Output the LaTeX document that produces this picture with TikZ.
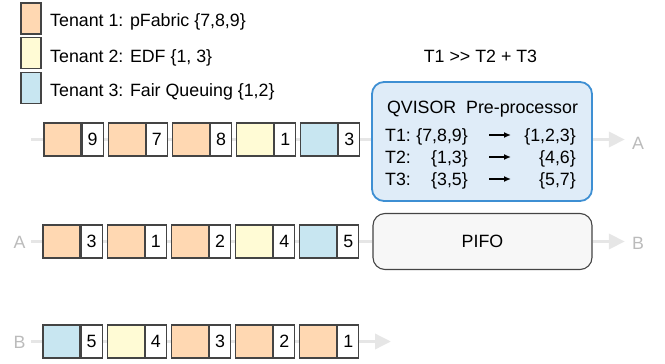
\documentclass[tikz,border=0pt]{standalone}
\usepackage{fontspec}
\setmainfont{Liberation Sans}
\usetikzlibrary{arrows.meta,backgrounds}
\definecolor{cOr}{HTML}{FFD8B2}
\definecolor{cYe}{HTML}{FFFBD5}
\definecolor{cBl}{HTML}{C8E6F1}
\definecolor{cEdge}{HTML}{444444}
\definecolor{cLine}{HTML}{E6E6E6}
\definecolor{cLab}{HTML}{BBBBBB}
\definecolor{qvFill}{HTML}{DFECF8}
\definecolor{qvEdge}{HTML}{3E8FD3}
\definecolor{pfFill}{HTML}{F7F7F7}
\tikzset{
  txt/.style={font=\fontsize{17.8}{21}\selectfont, inner sep=0pt},
  body/.style={draw=cEdge, line width=1.1pt, minimum width=37pt, minimum height=33pt, inner sep=0pt},
  numbox/.style={draw=cEdge, line width=1.1pt, fill=white, minimum width=21pt, minimum height=33pt, inner sep=0pt, txt},
  legsq/.style={draw=cEdge, line width=1.1pt, minimum width=20pt, minimum height=31pt, inner sep=0pt},
  wire/.style={draw=cLine, line width=3.5pt},
  wirearrow/.style={wire, -{Triangle[length=16pt,width=15pt]}},
  glab/.style={txt, text=cLab},
  smallarrow/.style={-{Latex[length=7pt,width=6pt]}, line width=1.3pt},
}
\begin{document}
\begin{tikzpicture}[x=1pt,y=-1pt]
\useasboundingbox (0,0) rectangle (665,364);
% legend
\node[legsq, fill=cOr] (l1) at (31,18.5) {};
\node[legsq, fill=cYe] (l2) at (31,53) {};
\node[legsq, fill=cBl] (l3) at (31,88) {};
\node[txt, anchor=base west] (lt1) at (50,27) {Tenant 1: pFabric \{7,8,9\}};
\node[txt, anchor=base west] (lt2) at (50,62) {Tenant 2: EDF \{1, 3\}};
\node[txt, anchor=base west] (lt3) at (50,96.5) {Tenant 3: Fair Queuing \{1,2\}};
\node[txt, anchor=base] (rule) at (480.5,62) {T1 >{}> T2 + T3};
% QVISOR box
\node[draw=qvEdge, fill=qvFill, line width=1.8pt, rounded corners=12pt, minimum width=220pt, minimum height=119pt] (qv) at (482,141.5) {};
\node[txt, anchor=base] (qvt) at (482.5,113) {QVISOR\ \ Pre-processor};
\node[txt, anchor=base west] (t1) at (385,141) {T1:};
\node[txt, anchor=base west] (t2) at (385,163) {T2:};
\node[txt, anchor=base west] (t3) at (385,185) {T3:};
\node[txt, anchor=base east] (s1) at (468,141) {\{7,8,9\}};
\node[txt, anchor=base east] (s2) at (468,163) {\{1,3\}};
\node[txt, anchor=base east] (s3) at (468,185) {\{3,5\}};
\node[txt, anchor=base east] (d1) at (576,141) {\{1,2,3\}};
\node[txt, anchor=base east] (d2) at (576,163) {\{4,6\}};
\node[txt, anchor=base east] (d3) at (576,185) {\{5,7\}};
\foreach \k/\y in {1/135,2/157,3/179}{
  \coordinate (as\k) at (489,\y);
  \coordinate (ae\k) at (511,\y);
  \draw[smallarrow] (as\k) -- (ae\k);
}
% PIFO box
\node[draw=cEdge, fill=pfFill, line width=1.1pt, rounded corners=12pt, minimum width=219pt, minimum height=56pt, txt] (pifo) at (482.5,241.5) {PIFO};
% labels
\node[glab] (la) at (638,143.5) {A};
\node[glab] (lb) at (638,243.5) {B};
\node[glab] (la2) at (19.5,242.5) {A};
\node[glab] (lb2) at (19.5,342.5) {B};
% row 1
\foreach \c/\n [count=\i] in {cOr/9,cOr/7,cOr/8,cYe/1,cBl/3}{
  \node[body, fill=\c] (r1b\i) at ({44+18.5+64.2*(\i-1)},139.5) {};
  \node[numbox, anchor=west] (r1n\i) at (r1b\i.east) {\n};
}
% row 2
\foreach \c/\n [count=\i] in {cOr/3,cOr/1,cOr/2,cYe/4,cBl/5}{
  \node[body, fill=\c] (r2b\i) at ({43+18.5+64.2*(\i-1)},241.5) {};
  \node[numbox, anchor=west] (r2n\i) at (r2b\i.east) {\n};
}
% row 3
\foreach \c/\n [count=\i] in {cBl/5,cYe/4,cOr/3,cOr/2,cOr/1}{
  \node[body, fill=\c] (r3b\i) at ({43+18.5+64.2*(\i-1)},341.5) {};
  \node[numbox, anchor=west] (r3n\i) at (r3b\i.east) {\n};
}
\coordinate (w1) at (31,139.5);
\coordinate (w2) at (31,241.5);
\coordinate (w3) at (31,341.5);
\coordinate (e3) at (391,341.5);
\begin{scope}[on background layer]
  \draw[wire] (w1) -- (w1 -| qv.west);
  \draw[wirearrow] (qv.east |- w1) -- ([xshift=-7pt]la.west |- w1);
  \draw[wire] (w2) -- (pifo.west);
  \draw[wirearrow] (pifo.east) -- ([xshift=-7pt]lb.west |- pifo.east);
  \draw[wirearrow] (w3) -- (e3);
\end{scope}
\end{tikzpicture}
\end{document}
